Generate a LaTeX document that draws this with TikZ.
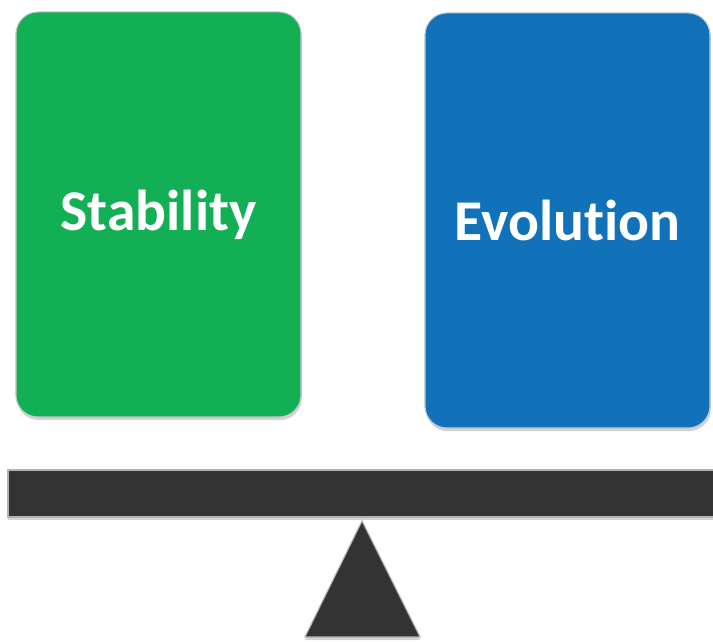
\documentclass[tikz,border=0pt]{standalone}
\usepackage{fontspec}
\newfontfamily\cardfont{Carlito}[Ligatures=NoCommon]
\usetikzlibrary{shadows}
\definecolor{stabgreen}{RGB}{19,175,84}
\definecolor{evolblue}{RGB}{17,114,185}
\definecolor{beamgray}{RGB}{51,51,51}
\tikzset{
  card/.style={rounded corners=0.55cm, draw=black!22, line width=0.8pt, inner sep=0pt,
    text=white, font=\cardfont\bfseries\fontsize{41}{49}\selectfont,
    minimum width=7.125cm,
    drop shadow={opacity=0.35, shadow xshift=0.6pt, shadow yshift=-2.2pt}},
  lever/.style={draw=black!30, line width=0.8pt, fill=beamgray,
    drop shadow={opacity=0.35, shadow xshift=0pt, shadow yshift=-2.2pt}}
}
\begin{document}
\begin{tikzpicture}[x=0.025cm,y=0.025cm]
\clip (0,0) rectangle (713,642);

\node (stability) at (158.5,427.5) [card, fill=stabgreen, minimum height=10.125cm]{Stability};
\node (evolution) at (567.5,421.5) [card, fill=evolblue, minimum height=10.375cm]{Evolution};

% beam and pivot
\draw [lever] (8,125) rectangle (740,172);
\draw [lever] (305,5) -- (362,121) -- (420,5) -- cycle;
\end{tikzpicture}
\end{document}
